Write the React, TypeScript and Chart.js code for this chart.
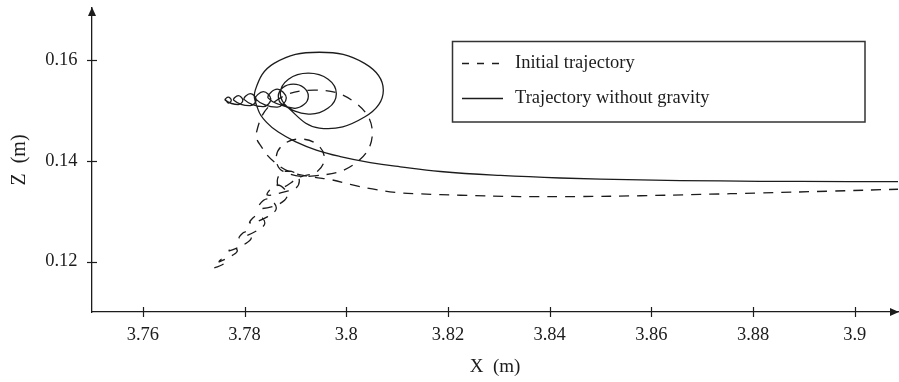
import { useEffect, useRef } from "react";
import { Chart, registerables } from "chart.js";

Chart.register(...registerables);

const seriesLabels = ["Initial trajectory", "Trajectory without gravity"];
const xTickValues = [3.76, 3.78, 3.8, 3.82, 3.84, 3.86, 3.88, 3.9];
const zTickValues = [0.12, 0.14, 0.16];
const xTitle = "X  (m)";
const zTitle = "Z  (m)";

// Initial trajectory (dashed)
const initialX = [
  3.77405,
  3.77562, 3.77621, 3.77562, 3.77503,
  3.77779, 3.77858, 3.77779, 3.777,
  3.78015, 3.78133, 3.78015, 3.77897,
  3.78251, 3.78399, 3.78251, 3.78103,
  3.78447, 3.78625, 3.78447, 3.78269,
  3.78644, 3.78841, 3.78644, 3.78447,
  3.7886, 3.79013, 3.79077, 3.79013, 3.7886, 3.78707, 3.78643, 3.78707,
  3.79096, 3.7943, 3.79569, 3.7943, 3.79096, 3.78762, 3.78623, 3.78762,
  3.79372, 3.80179, 3.80513, 3.80179, 3.79372, 3.78565, 3.78231,
  3.78349, 3.78585, 3.789, 3.79332, 3.79726, 3.8008, 3.80512, 3.80965, 3.81456,
  3.82243, 3.83423, 3.84603, 3.85783, 3.86963, 3.88143, 3.89519, 3.9085,
];
const initialZ = [
  0.11877,
  0.11937, 0.11996, 0.12055, 0.11996,
  0.12135, 0.12214, 0.12293, 0.12214,
  0.12353, 0.12471, 0.12589, 0.12471,
  0.1262, 0.12768, 0.12916, 0.12768,
  0.12887, 0.13065, 0.13243, 0.13065,
  0.13126, 0.13323, 0.1352, 0.13323,
  0.13402, 0.1346, 0.136, 0.1374, 0.13798, 0.1374, 0.136, 0.1346,
  0.13679, 0.13789, 0.14055, 0.14321, 0.14431, 0.14321, 0.14055, 0.13789,
  0.137, 0.13949, 0.14551, 0.15153, 0.15402, 0.15153, 0.14551,
  0.14253, 0.13976, 0.13778, 0.13679, 0.1362, 0.13531, 0.13442, 0.13372, 0.13343,
  0.13317, 0.13291, 0.13291, 0.13307, 0.13333, 0.13362, 0.13398, 0.13436,
];

// Trajectory without gravity (solid)
const noGravityX = [
  3.77625,
  3.7768, 3.77739, 3.7768, 3.77621,
  3.77877, 3.77966, 3.77877, 3.77788,
  3.78113, 3.78231, 3.78113, 3.77995,
  3.78369, 3.78517, 3.78369, 3.78221,
  3.78644, 3.78821, 3.78644, 3.78467,
  3.78959, 3.79168, 3.79254, 3.79168, 3.78959, 3.7875, 3.78664, 3.7875,
  3.79254, 3.79644, 3.79805, 3.79644, 3.79254, 3.78864, 3.78703, 3.78864,
  3.7947, 3.8036, 3.80729, 3.8036, 3.7947, 3.7858, 3.78211,
  3.7827, 3.78428, 3.78664, 3.78998, 3.79411, 3.79883, 3.80473, 3.81063, 3.8185,
  3.8303, 3.84209, 3.85783, 3.87356, 3.88929, 3.9085,
];
const noGravityZ = [
  0.15215,
  0.15145, 0.15204, 0.15263, 0.15204,
  0.15115, 0.15204, 0.15293, 0.15204,
  0.15096, 0.15214, 0.15332, 0.15214,
  0.15076, 0.15224, 0.15372, 0.15224,
  0.15067, 0.15244, 0.15421, 0.15244,
  0.15045, 0.15115, 0.15283, 0.15451, 0.15521, 0.15451, 0.15283, 0.15115,
  0.14927, 0.15046, 0.15333, 0.1562, 0.15739, 0.1562, 0.15333, 0.15046,
  0.1465, 0.1487, 0.15402, 0.15934, 0.16154, 0.15934, 0.15402,
  0.15006, 0.14768, 0.1457, 0.14382, 0.14214, 0.14085, 0.13966, 0.13881, 0.13788,
  0.13709, 0.13659, 0.1362, 0.136, 0.1359, 0.13586,
];

const INK = "#1c1c1c";
const FONT = "'Liberation Serif', 'Times New Roman', serif";

const decorPlugin = {
  id: "decor",
  afterDraw(chart: any) {
    const { ctx, chartArea: ca, scales } = chart;
    const xs = scales.x;
    const ys = scales.y;
    ctx.save();
    ctx.strokeStyle = INK;
    ctx.fillStyle = INK;
    ctx.lineWidth = 1.2;
    ctx.setLineDash([]);
    // tick marks crossing the axes
    xTickValues.forEach((v) => {
      const p = Math.round(xs.getPixelForValue(v)) + 0.5;
      ctx.beginPath();
      ctx.moveTo(p, ca.bottom - 5);
      ctx.lineTo(p, ca.bottom + 5);
      ctx.stroke();
    });
    zTickValues.forEach((v) => {
      const p = Math.round(ys.getPixelForValue(v)) + 0.5;
      ctx.beginPath();
      ctx.moveTo(ca.left - 5, p);
      ctx.lineTo(ca.left + 5, p);
      ctx.stroke();
    });
    // arrow heads
    ctx.beginPath();
    ctx.moveTo(ca.left, ca.top - 1);
    ctx.lineTo(ca.left - 4, ca.top + 8);
    ctx.lineTo(ca.left + 4, ca.top + 8);
    ctx.closePath();
    ctx.fill();
    ctx.beginPath();
    ctx.moveTo(ca.right + 1, ca.bottom);
    ctx.lineTo(ca.right - 8, ca.bottom - 4);
    ctx.lineTo(ca.right - 8, ca.bottom + 4);
    ctx.closePath();
    ctx.fill();

    // legend box
    const bx = 452.5, by = 41.5, bw = 412.5, bh = 80.5;
    ctx.lineWidth = 1.5;
    ctx.strokeStyle = "#333";
    ctx.strokeRect(bx, by, bw, bh);
    const rows = [63.5, 98.5];
    ctx.font = `18.5px ${FONT}`;
    ctx.textBaseline = "middle";
    ctx.textAlign = "left";
    chart.data.datasets.forEach((ds: any, i: number) => {
      const y = rows[i];
      ctx.strokeStyle = INK;
      ctx.lineWidth = 1.3;
      ctx.setLineDash(i === 0 ? [7, 8] : []);
      ctx.beginPath();
      ctx.moveTo(462, y);
      ctx.lineTo(i === 0 ? 499 : 503, y);
      ctx.stroke();
      ctx.setLineDash([]);
      ctx.fillStyle = INK;
      ctx.fillText(ds.label, 515, y);
    });
    ctx.restore();
  },
};

export default function App() {
  const canvasRef = useRef<HTMLCanvasElement | null>(null);

  useEffect(() => {
    document.body.style.margin = "0";
    const canvas = canvasRef.current;
    if (!canvas) return;
    const initialData = initialX.map((x, i) => ({ x, y: initialZ[i] }));
    const noGravityData = noGravityX.map((x, i) => ({ x, y: noGravityZ[i] }));

    const chart = new Chart(canvas, {
      type: "scatter",
      data: {
        datasets: [
          {
            label: seriesLabels[0],
            data: initialData,
            showLine: true,
            borderColor: INK,
            borderWidth: 1.3,
            borderDash: [10, 8],
            pointRadius: 0,
            tension: 0.42,
            fill: false,
          },
          {
            label: seriesLabels[1],
            data: noGravityData,
            showLine: true,
            borderColor: INK,
            borderWidth: 1.3,
            pointRadius: 0,
            tension: 0.42,
            fill: false,
          },
        ],
      },
      options: {
        responsive: false,
        animation: false,
        devicePixelRatio: 1,
        events: [],
        layout: { padding: { left: 0, top: 8, right: 1, bottom: 0 } },
        plugins: {
          legend: { display: false },
          tooltip: { enabled: false },
        },
        scales: {
          x: {
            type: "linear",
            min: 3.75,
            max: 3.9085,
            afterBuildTicks: (scale: any) => {
              scale.ticks = xTickValues.map((v) => ({ value: v }));
            },
            afterFit: (scale: any) => {
              scale.height = 70;
              scale.paddingLeft = 0;
              scale.paddingRight = 0;
              scale.paddingTop = 0;
              scale.paddingBottom = 0;
            },
            grid: { display: false, drawTicks: false },
            border: { display: true, color: INK, width: 1.3 },
            ticks: {
              padding: 12,
              color: INK,
              font: { family: FONT, size: 18.5 },
              maxRotation: 0,
              autoSkip: false,
              callback: (v: any) => String(Number(Number(v).toFixed(2))),
            },
            title: {
              display: true,
              text: xTitle,
              color: INK,
              font: { family: FONT, size: 19 },
              padding: { top: 0, bottom: 4 },
            },
          },
          y: {
            type: "linear",
            min: 0.11,
            max: 0.17032,
            afterBuildTicks: (scale: any) => {
              scale.ticks = zTickValues.map((v) => ({ value: v }));
            },
            afterFit: (scale: any) => {
              scale.width = 92;
              scale.paddingLeft = 0;
              scale.paddingRight = 0;
              scale.paddingTop = 0;
              scale.paddingBottom = 0;
            },
            grid: { display: false, drawTicks: false },
            border: { display: true, color: INK, width: 1.3 },
            ticks: {
              padding: 14.5,
              color: INK,
              font: { family: FONT, size: 18.5 },
              autoSkip: false,
              callback: (v: any) => Number(v).toFixed(2),
            },
            title: {
              display: true,
              text: zTitle,
              color: INK,
              font: { family: FONT, size: 20 },
              padding: { top: 8, bottom: 0 },
            },
          },
        },
      },
      plugins: [decorPlugin],
    });

    return () => {
      chart.destroy();
    };
  }, []);

  return (
    <div style={{ width: 899, height: 382, background: "#fff" }}>
      <canvas ref={canvasRef} width={899} height={382} style={{ display: "block" }} />
    </div>
  );
}
